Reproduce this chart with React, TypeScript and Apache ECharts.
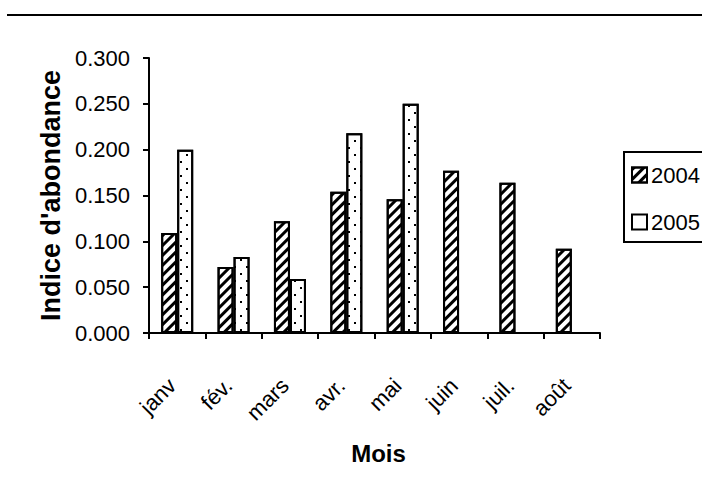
import React, { useEffect, useRef } from "react";
import * as echarts from "echarts";

const months = ["janv", "fév.", "mars", "avr.", "mai", "juin", "juil.", "août"];
const series2004 = [0.109, 0.072, 0.122, 0.154, 0.146, 0.177, 0.164, 0.092];
const series2005 = [0.2, 0.083, 0.059, 0.218, 0.25, null, null, null];
const seriesNames = ["2004", "2005"];

const SANS = "'Liberation Sans', Arial, sans-serif";

export default function App() {
  const ref = useRef<HTMLDivElement>(null);
  useEffect(() => {
    document.body.style.margin = "0";
    const chart = echarts.init(ref.current!, null, { renderer: "svg" });
    const hatch = {
      symbol: "rect",
      symbolSize: 1,
      color: "#000",
      dashArrayX: [1, 0],
      dashArrayY: [3, 4],
      rotation: -Math.PI / 4,
    };
    const dots = {
      symbol: "rect",
      symbolSize: 1,
      color: "#000",
      dashArrayX: [[2, 10], [0, 6, 2, 4]],
      dashArrayY: [2, 5],
      rotation: 0,
    };
    chart.setOption({
      animation: false,
      backgroundColor: "#fff",
      grid: { left: 149, right: 102, top: 58, bottom: 167, containLabel: false },
      graphic: [
        {
          type: "line",
          shape: { x1: 7, y1: 15, x2: 702, y2: 15 },
          style: { stroke: "#000", lineWidth: 2 },
        },
      ],
      legend: {
        orient: "vertical",
        left: 624,
        top: 152,
        data: [
          { name: seriesNames[0], icon: "rect" },
          { name: seriesNames[1], icon: "rect", itemStyle: { decal: "none" } },
        ],
        itemWidth: 15,
        itemHeight: 15,
        itemGap: 25,
        padding: [12, 70, 9, 7],
        borderColor: "#000",
        borderWidth: 2,
        textStyle: { fontFamily: SANS, fontSize: 22, color: "#000", padding: [0, 0, 0, -1] },
      },
      xAxis: {
        type: "category",
        data: months,
        name: "Mois",
        nameLocation: "middle",
        nameGap: 108,
        nameTextStyle: { fontFamily: SANS, fontWeight: "bold", fontSize: 24, color: "#000", padding: [0, 0, 0, 8] },
        axisLine: { lineStyle: { color: "#000", width: 2 } },
        axisTick: { show: true, length: 6, interval: 0, lineStyle: { color: "#000", width: 2 } },
        axisLabel: {
          interval: 0,
          rotate: 45,
          margin: 44,
          padding: [0, 7, 0, 0],
          fontFamily: SANS,
          fontSize: 22,
          color: "#000",
        },
      },
      yAxis: {
        type: "value",
        min: 0,
        max: 0.3,
        interval: 0.05,
        name: "Indice d'abondance",
        nameLocation: "middle",
        nameRotate: 90,
        nameGap: 76,
        nameTextStyle: { fontFamily: SANS, fontWeight: "bold", fontSize: 27, color: "#000" },
        splitLine: { show: false },
        axisLine: { show: true, lineStyle: { color: "#000", width: 2 } },
        axisTick: { show: true, length: 6, lineStyle: { color: "#000", width: 2 } },
        axisLabel: {
          margin: 19,
          fontFamily: SANS,
          fontSize: 22,
          color: "#000",
          formatter: (v: number) => v.toFixed(3),
        },
      },
      series: [
        {
          name: seriesNames[0],
          type: "bar",
          data: series2004,
          barWidth: 16,
          barGap: "0%",
          itemStyle: { color: "#fff", borderColor: "#000", borderWidth: 2, decal: hatch },
        },
        {
          name: seriesNames[1],
          type: "bar",
          data: series2005,
          barWidth: 16,
          itemStyle: { color: "#fff", borderColor: "#000", borderWidth: 2, decal: dots },
        },
      ],
    });
    return () => chart.dispose();
  }, []);
  return <div ref={ref} style={{ width: 702, height: 500 }} />;
}
